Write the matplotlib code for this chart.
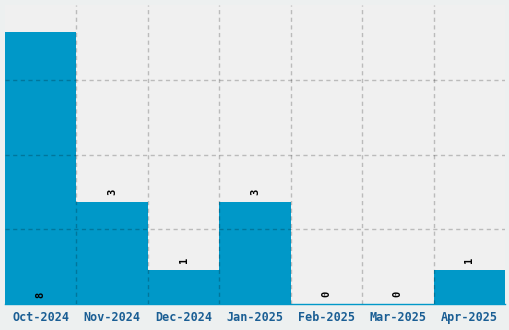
import matplotlib
matplotlib.use('Agg')
import matplotlib.pyplot as plt
import numpy as np

months = ["Oct-2024", "Nov-2024", "Dec-2024", "Jan-2025", "Feb-2025", "Mar-2025", "Apr-2025"]
counts = [8, 3, 1, 3, 0, 0, 1]

BAR = "#0098c8"
TICK = "#1a5e94"
YMAX = 8.8

fig = plt.figure(figsize=(5.1, 3.3), dpi=100, facecolor="#edf0f0")
ax = fig.add_axes([5 / 510, 26 / 330, 500 / 510, 299 / 330])
ax.set_facecolor("#f0f0f0")

x = np.arange(len(months))
ax.bar(x, counts, width=1.0, color=BAR, zorder=1)

ax.set_xlim(-0.5, len(months) - 0.5)
ax.set_ylim(0, YMAX)
ax.set_yticks(np.linspace(0, YMAX, 5)[1:-1])
ax.set_xticks(x[:-1] + 0.5, minor=True)
ax.set_xticks(x)
ax.set_xticklabels(months, family="DejaVu Sans Mono", weight="bold", size=8.5, color=TICK)
ax.set_yticklabels([])
ax.tick_params(axis="both", which="both", length=0)
ax.tick_params(axis="x", pad=5)

ax.grid(False)
grid_style = dict(color="black", alpha=0.22, linestyle=(0, (3, 2.5)), linewidth=1, zorder=3)
ax.grid(True, axis="x", which="minor", **grid_style)
ax.grid(True, axis="y", which="major", **grid_style)
ax.set_axisbelow(False)

for s in ["top", "left", "right"]:
    ax.spines[s].set_visible(False)
ax.spines["bottom"].set_color(BAR)
ax.spines["bottom"].set_linewidth(1)

# value labels: above the bar, or at the base when there is no room on top
for xi, v in zip(x, counts):
    if v + 1.0 > YMAX:
        y0, off = 0, 4
    else:
        y0, off = v, 5
    ax.annotate(str(v), (xi, y0), xytext=(0, off), textcoords="offset points",
                rotation=90, ha="center", va="bottom", size=7.5,
                family="DejaVu Sans Mono", weight="bold", color="black")

fig.savefig("out.png", dpi=100, facecolor=fig.get_facecolor())
